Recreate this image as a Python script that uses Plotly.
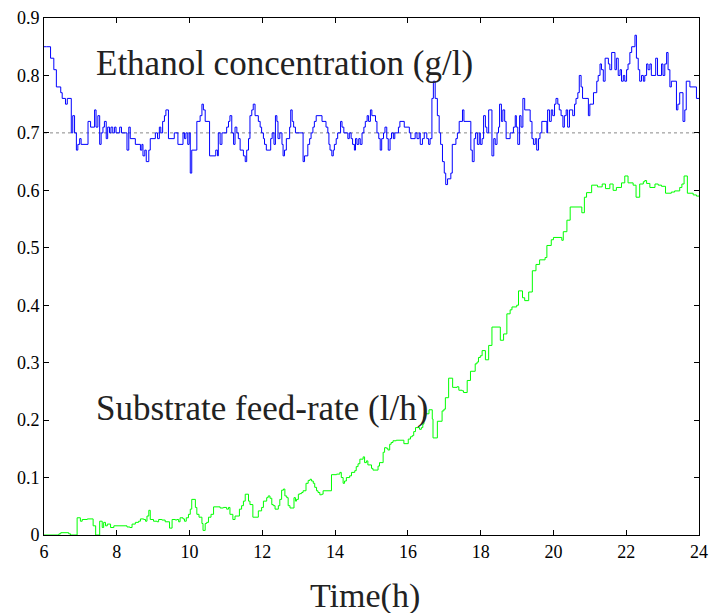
import plotly.graph_objects as go

# Ethanol concentration (g/l) — staircase readings (time h, value)
eth_t = [6.00,6.07,6.18,6.27,6.34,6.46,6.50,6.59,6.64,6.75,6.79,6.84,6.89,6.93,6.98,7.02,7.21,7.28,7.39,7.43,7.48,7.53,7.57,7.62,7.66,7.71,7.75,7.80,7.84,7.89,7.94,7.98,8.08,8.13,8.28,8.33,8.37,8.51,8.65,8.69,8.72,8.77,8.81,8.88,8.92,9.06,9.12,9.17,9.21,9.26,9.31,9.35,9.42,9.58,9.68,9.82,9.86,9.90,9.95,9.99,10.02,10.06,10.20,10.29,10.34,10.38,10.43,10.55,10.72,10.77,10.79,10.84,10.89,11.02,11.07,11.11,11.16,11.21,11.25,11.30,11.34,11.39,11.48,11.53,11.57,11.62,11.66,11.71,11.75,11.80,11.89,11.94,11.98,12.03,
         12.06,12.11,12.23,12.27,12.32,12.36,12.40,12.43,12.48,12.54,12.57,12.61,12.66,12.75,12.78,12.82,12.86,12.91,13.12,13.16,13.25,13.30,13.34,13.39,13.43,13.48,13.64,13.75,13.80,13.83,13.86,13.91,13.95,13.98,14.03,14.07,14.15,14.19,14.24,14.35,14.39,14.44,14.48,14.53,14.56,14.60,14.65,14.69,14.74,14.79,14.83,14.88,14.92,14.97,15.01,15.11,15.15,15.20,15.24,15.28,15.33,15.37,15.42,15.46,15.51,15.55,15.60,15.64,15.74,15.78,15.90,16.04,16.08,16.20,16.25,16.31,16.34,16.40,16.45,16.52,16.57,16.61,16.66,16.70,16.75,16.81,16.86,16.90,16.95,17.00,17.04,17.09,17.18,17.22,17.32,17.36,17.41,17.50,17.54,17.73,17.77,17.82,17.86,17.91,17.96,
         17.99,18.04,18.08,18.13,18.17,18.22,18.31,18.36,18.40,18.45,18.49,18.52,18.57,18.61,18.66,18.70,18.81,18.90,18.95,18.98,19.02,19.07,19.11,19.16,19.21,19.36,19.41,19.45,19.50,19.54,19.59,19.63,19.68,19.82,19.84,19.89,19.94,19.98,20.03,20.07,20.12,20.16,20.21,20.26,20.30,20.35,20.39,20.44,20.53,20.58,20.62,20.67,20.71,20.76,20.80,20.96,21.00,21.10,21.19,21.23,21.28,21.32,21.37,21.42,21.51,21.55,21.60,21.69,21.73,21.78,21.83,21.87,21.92,21.96,22.01,22.05,22.10,22.15,22.24,22.28,22.33,22.37,22.42,22.47,22.51,22.56,22.60,22.65,22.69,22.81,22.86,22.97,23.01,23.06,23.11,23.15,23.20,23.24,23.38,23.42,23.47,23.56,23.61,23.65,23.75,23.93,24.00]
eth_v = [0.85,0.85,0.83,0.81,0.78,0.77,0.76,0.75,0.76,0.70,0.73,0.70,0.67,0.68,0.69,0.68,0.72,0.71,0.74,0.71,0.73,0.68,0.70,0.71,0.72,0.69,0.71,0.70,0.71,0.70,0.71,0.70,0.71,0.70,0.67,0.71,0.69,0.68,0.67,0.68,0.66,0.67,0.65,0.67,0.69,0.70,0.69,0.71,0.70,0.72,0.73,0.74,0.69,0.70,0.68,0.70,0.69,0.70,0.68,0.70,0.63,0.67,0.72,0.73,0.75,0.74,0.72,0.66,0.67,0.66,0.70,0.68,0.70,0.71,0.72,0.73,0.70,0.68,0.71,0.70,0.69,0.67,0.66,0.65,0.67,0.69,0.73,0.74,0.75,0.73,0.72,0.71,0.70,0.69,
         0.68,0.67,0.69,0.70,0.68,0.73,0.72,0.69,0.70,0.68,0.66,0.67,0.69,0.71,0.74,0.72,0.71,0.70,0.65,0.66,0.68,0.69,0.70,0.71,0.72,0.73,0.72,0.71,0.70,0.68,0.67,0.66,0.67,0.68,0.69,0.70,0.72,0.71,0.70,0.69,0.70,0.69,0.68,0.67,0.69,0.68,0.69,0.68,0.70,0.71,0.72,0.73,0.72,0.74,0.73,0.72,0.70,0.69,0.67,0.69,0.70,0.71,0.69,0.67,0.69,0.70,0.69,0.70,0.71,0.72,0.71,0.70,0.69,0.70,0.69,0.70,0.68,0.69,0.70,0.69,0.68,0.69,0.76,0.79,0.76,0.73,0.70,0.68,0.65,0.63,0.61,0.62,0.63,0.68,0.69,0.70,0.72,0.74,0.72,0.67,0.65,0.69,0.70,0.68,0.70,
         0.68,0.69,0.73,0.71,0.70,0.74,0.66,0.69,0.68,0.70,0.71,0.75,0.72,0.74,0.72,0.69,0.70,0.71,0.73,0.71,0.68,0.73,0.71,0.76,0.74,0.72,0.69,0.68,0.69,0.67,0.69,0.70,0.72,0.70,0.74,0.72,0.74,0.73,0.75,0.76,0.75,0.74,0.73,0.71,0.73,0.74,0.71,0.74,0.73,0.75,0.76,0.77,0.80,0.78,0.76,0.73,0.75,0.77,0.79,0.80,0.82,0.81,0.79,0.83,0.82,0.81,0.84,0.81,0.83,0.80,0.81,0.79,0.80,0.79,0.81,0.82,0.84,0.85,0.87,0.83,0.81,0.79,0.80,0.79,0.80,0.82,0.81,0.82,0.80,0.83,0.80,0.82,0.80,0.82,0.84,0.81,0.78,0.79,0.74,0.75,0.77,0.72,0.74,0.79,0.78,0.76,0.76]

# Substrate feed-rate (l/h) — staircase readings (time h, value)
feed_t = [6.00,6.41,6.46,6.68,6.73,6.91,7.00,7.05,7.19,7.35,7.42,7.53,7.60,7.64,7.69,7.74,7.83,7.92,8.28,8.36,8.42,8.51,8.60,8.65,8.74,8.79,8.83,8.88,8.92,9.01,9.11,9.15,9.24,9.33,9.45,9.52,9.61,9.65,9.70,9.74,9.82,9.86,9.91,9.97,10.02,10.06,10.16,10.20,10.26,10.34,10.37,10.43,10.47,10.52,10.59,10.66,10.84,10.93,11.02,11.07,11.11,11.19,11.25,11.37,11.43,11.48,11.53,11.62,11.66,11.74,11.89,11.98,12.03,12.12,12.16,12.21,12.26,12.30,12.35,12.44,12.48,12.53,12.58,12.62,12.67,12.71,12.76,12.87,12.91,12.94,12.99,13.03,13.08,13.12,13.20,13.26,13.31,13.35,13.40,13.44,13.49,13.53,13.58,13.63,13.67,13.90,14.04,14.13,14.17,14.22,14.26,14.31,14.40,14.45,14.54,14.58,14.63,14.68,14.77,14.81,14.86,14.90,15.00,15.04,15.18,15.22,15.32,15.36,15.41,15.45,15.50,15.54,15.59,15.68,
          15.89,16.01,16.07,16.12,16.16,16.21,16.32,16.37,16.41,16.44,16.48,16.58,16.67,16.69,16.81,16.94,16.99,17.03,17.12,17.23,17.35,17.40,17.49,17.53,17.63,17.72,17.85,17.90,17.94,17.99,18.04,18.13,18.22,18.31,18.54,18.63,18.72,18.81,18.86,18.99,19.04,19.15,19.21,19.32,19.42,19.52,19.62,19.77,19.82,19.94,20.00,20.23,20.27,20.37,20.46,20.78,20.85,20.91,21.05,21.21,21.34,21.43,21.55,21.64,21.73,21.87,21.96,22.05,22.19,22.27,22.37,22.47,22.51,22.56,22.65,22.79,22.88,22.97,23.08,23.24,23.33,23.47,23.53,23.59,23.68,23.84,23.93,24.00]
feed_v = [0.0,0.002,0.004,0.002,0.0,0.030,0.024,0.027,0.028,0.016,0.0,0.024,0.013,0.022,0.016,0.019,0.013,0.016,0.014,0.013,0.019,0.022,0.024,0.028,0.027,0.024,0.033,0.043,0.027,0.024,0.023,0.027,0.026,0.023,0.012,0.027,0.026,0.027,0.023,0.030,0.028,0.024,0.030,0.036,0.045,0.062,0.048,0.036,0.031,0.020,0.008,0.020,0.022,0.031,0.036,0.049,0.047,0.048,0.045,0.048,0.036,0.027,0.033,0.045,0.051,0.059,0.071,0.059,0.053,0.031,0.042,0.048,0.059,0.065,0.068,0.064,0.053,0.051,0.045,0.051,0.062,0.078,0.080,0.068,0.065,0.051,0.047,0.065,0.059,0.062,0.071,0.072,0.074,0.077,0.090,0.095,0.097,0.094,0.090,0.083,0.077,0.074,0.070,0.071,0.077,0.105,0.106,0.109,0.100,0.090,0.094,0.100,0.103,0.109,0.112,0.119,0.124,0.132,0.136,0.126,0.129,0.122,0.116,0.113,0.120,0.126,0.144,0.152,0.151,0.148,0.158,0.161,0.164,0.165,
          0.159,0.167,0.171,0.173,0.180,0.187,0.184,0.187,0.193,0.205,0.211,0.218,0.202,0.169,0.198,0.216,0.219,0.239,0.273,0.257,0.258,0.252,0.251,0.248,0.269,0.285,0.298,0.301,0.309,0.312,0.321,0.305,0.330,0.362,0.339,0.350,0.385,0.392,0.397,0.400,0.425,0.413,0.408,0.423,0.460,0.471,0.479,0.483,0.504,0.514,0.518,0.513,0.528,0.548,0.571,0.561,0.588,0.596,0.609,0.606,0.611,0.603,0.611,0.600,0.605,0.613,0.625,0.613,0.609,0.588,0.611,0.615,0.617,0.612,0.605,0.611,0.609,0.607,0.595,0.597,0.599,0.605,0.611,0.625,0.595,0.592,0.590,0.590]

setpoint_t = [6, 24]
setpoint_v = [0.7, 0.7]

x_ticks = [6, 8, 10, 12, 14, 16, 18, 20, 22, 24]
y_ticks = [0, 0.1, 0.2, 0.3, 0.4, 0.5, 0.6, 0.7, 0.8, 0.9]
y_tick_text = ["0", "0.1", "0.2", "0.3", "0.4", "0.5", "0.6", "0.7", "0.8", "0.9"]

FONT = "Liberation Serif, Times New Roman, serif"

fig = go.Figure()
fig.add_trace(go.Scatter(x=setpoint_t, y=setpoint_v, mode="lines",
                         line=dict(color="#888888", width=1, dash="dot"), showlegend=False))
fig.add_trace(go.Scatter(x=eth_t, y=eth_v, mode="lines", line_shape="hv",
                         line=dict(color="#0000ff", width=1), showlegend=False))
fig.add_trace(go.Scatter(x=feed_t, y=feed_v, mode="lines", line_shape="hv",
                         line=dict(color="#00ff00", width=1), showlegend=False))

fig.add_annotation(x=0.077, y=0.82, xref="paper", yref="y", xanchor="left", yanchor="middle",
                   text="Ethanol concentration (g/l)", showarrow=False,
                   font=dict(family=FONT, size=35, color="#222222"))
fig.add_annotation(x=0.077, y=0.22, xref="paper", yref="y", xanchor="left", yanchor="middle",
                   text="Substrate feed-rate (l/h)", showarrow=False,
                   font=dict(family=FONT, size=35, color="#222222"))
fig.add_annotation(x=0.49, y=0, xref="paper", yref="paper", xanchor="center", yanchor="middle",
                   yshift=-61, text="Time(h)", showarrow=False,
                   font=dict(family=FONT, size=34, color="#222222"))

axis_common = dict(showline=True, linecolor="black", linewidth=1, mirror="ticks",
                   ticks="inside", ticklen=5, tickcolor="black", showgrid=False, zeroline=False,
                   automargin=False, ticklabeloverflow="allow",
                   tickfont=dict(family=FONT, size=18, color="black"))

fig.update_xaxes(range=[6, 24], tickvals=x_ticks, **axis_common)
fig.update_yaxes(range=[0, 0.9], tickvals=y_ticks, ticktext=y_tick_text, **axis_common)

fig.update_layout(width=709, height=613, margin=dict(l=44, r=10, t=18, b=78),
                  plot_bgcolor="white", paper_bgcolor="white")

fig.write_html("out.html", config={"displayModeBar": False},
               post_script="document.body.style.margin='0';document.documentElement.style.overflow='hidden';document.body.style.overflow='hidden';")
